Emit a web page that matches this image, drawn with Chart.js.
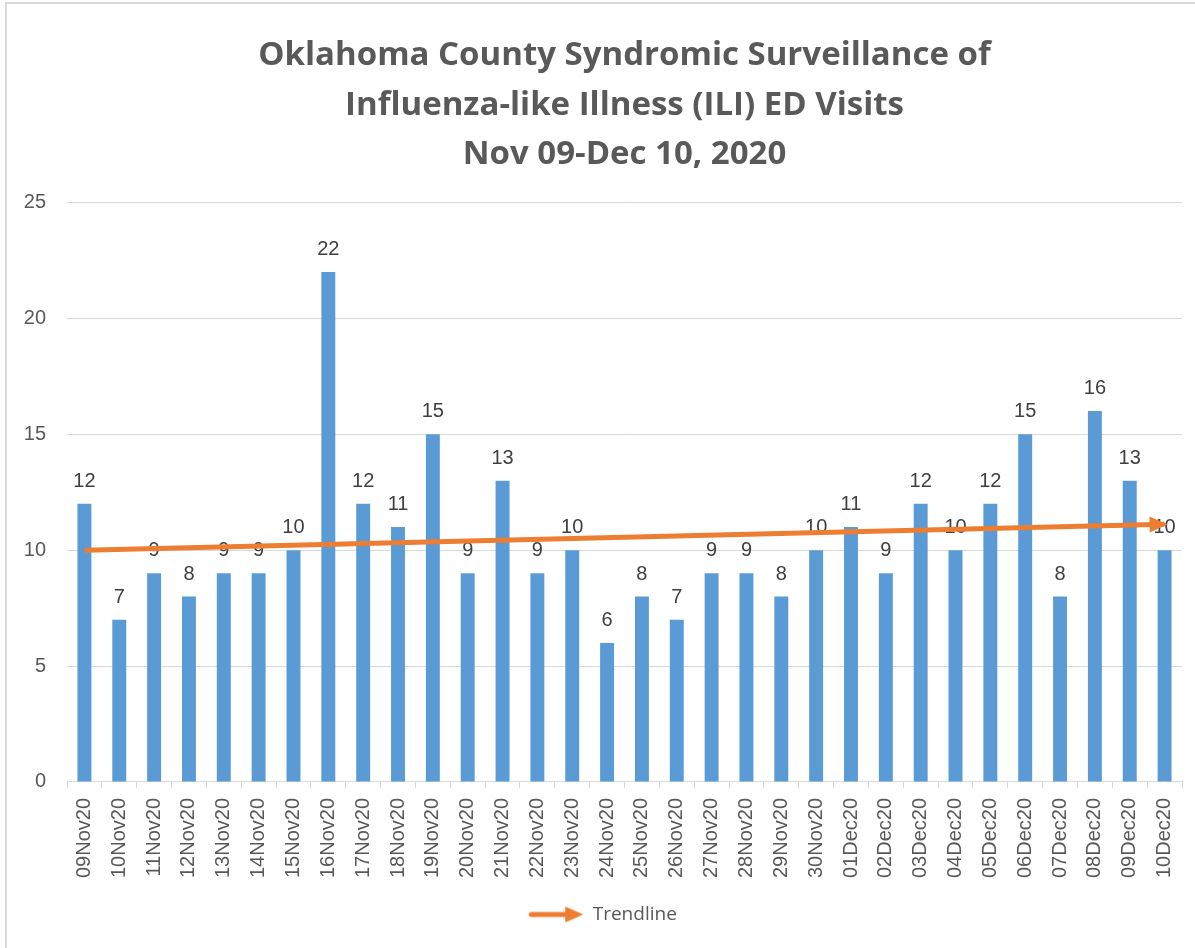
<!DOCTYPE html>
<html lang="en">
<head>
<meta charset="UTF-8">
<title>Oklahoma County ILI ED Visits</title>
<script src="https://cdn.jsdelivr.net/npm/chart.js"></script>
<style>
  html, body { margin: 0; padding: 0; background: #fff; overflow: hidden; }
  .frame {
    position: absolute; left: 5px; top: 2px;
    border-left: 2px solid #d9d9d9; border-top: 2px solid #d9d9d9;
    width: 1226px; height: 944px;
  }
</style>
</head>
<body>
<div class="frame"><canvas id="chart" width="1226" height="944"></canvas></div>
<script>
// daily ED visits for ILI
const days = ['09Nov20', '10Nov20', '11Nov20', '12Nov20', '13Nov20', '14Nov20', '15Nov20', '16Nov20',
  '17Nov20', '18Nov20', '19Nov20', '20Nov20', '21Nov20', '22Nov20', '23Nov20', '24Nov20',
  '25Nov20', '26Nov20', '27Nov20', '28Nov20', '29Nov20', '30Nov20', '01Dec20', '02Dec20',
  '03Dec20', '04Dec20', '05Dec20', '06Dec20', '07Dec20', '08Dec20', '09Dec20', '10Dec20'];
const visits = [12, 7, 9, 8, 9, 9, 10, 22, 12, 11, 15, 9, 13, 9, 10, 6,
  8, 7, 9, 9, 8, 10, 11, 9, 12, 10, 12, 15, 8, 16, 13, 10];
// trendline end values as drawn
const trendStart = 10.0;
const trendEnd = 11.12;
const yTicks = [0, 5, 10, 15, 20, 25];

const trend = visits.map((v, i) => i === 0 ? trendStart : (i === visits.length - 1 ? trendEnd : null));

// arrow used as the legend symbol
const arrowImg = document.createElement('canvas');
arrowImg.width = 56;
arrowImg.height = 20;
(function () {
  const c = arrowImg.getContext('2d');
  c.strokeStyle = '#ED7D31';
  c.fillStyle = '#ED7D31';
  c.lineWidth = 5;
  c.lineCap = 'round';
  c.beginPath();
  c.moveTo(4, 10);
  c.lineTo(40, 10);
  c.stroke();
  c.beginPath();
  c.moveTo(56, 10);
  c.lineTo(38, 2);
  c.lineTo(38, 18);
  c.closePath();
  c.fill();
})();

// value labels above the bars
const barLabels = {
  id: 'barLabels',
  afterDatasetDraw(chart, args) {
    if (args.index !== 0) return;
    const ctx = chart.ctx;
    ctx.save();
    ctx.font = '20px "Liberation Sans"';
    ctx.fillStyle = '#404040';
    ctx.textAlign = 'center';
    ctx.textBaseline = 'alphabetic';
    args.meta.data.forEach((bar, i) => {
      ctx.fillText(visits[i], bar.x, bar.y - 17);
    });
    ctx.restore();
  }
};

// arrow head at the end of the trendline
const arrowHead = {
  id: 'arrowHead',
  afterDatasetsDraw(chart) {
    const pts = chart.getDatasetMeta(1).data;
    const a = pts[0];
    const b = pts[pts.length - 1];
    const ang = Math.atan2(b.y - a.y, b.x - a.x);
    const ctx = chart.ctx;
    ctx.save();
    ctx.translate(b.x, b.y);
    ctx.rotate(ang);
    ctx.fillStyle = '#ED7D31';
    ctx.beginPath();
    ctx.moveTo(3, 0);
    ctx.lineTo(-15, -8);
    ctx.lineTo(-15, 8);
    ctx.closePath();
    ctx.fill();
    ctx.restore();
  }
};

new Chart(document.getElementById('chart'), {
  data: {
    labels: days,
    datasets: [{
      type: 'bar',
      label: 'ED Visits',
      data: visits,
      backgroundColor: '#5B9BD5',
      categoryPercentage: 1,
      barPercentage: 0.4,
      order: 2
    }, {
      type: 'line',
      label: 'Trendline',
      data: trend,
      spanGaps: true,
      borderColor: '#ED7D31',
      backgroundColor: '#ED7D31',
      borderWidth: 5,
      pointRadius: 0,
      pointHoverRadius: 0,
      pointStyle: arrowImg,
      order: 1
    }]
  },
  options: {
    responsive: false,
    animation: false,
    devicePixelRatio: 1,
    layout: { padding: { left: 15, right: 51, top: 0, bottom: 14 } },
    plugins: {
      title: {
        display: true,
        fullSize: false,
        text: ['Oklahoma County Syndromic Surveillance of', 'Influenza-like Illness (ILI) ED Visits', 'Nov 09-Dec 10, 2020'],
        color: '#595959',
        font: { family: 'Open Sans', size: 33, weight: 'bold', lineHeight: 1.5 },
        padding: { top: 27, bottom: 23 }
      },
      legend: {
        position: 'bottom',
        labels: {
          filter: item => item.datasetIndex === 1,
          usePointStyle: true,
          pointStyleWidth: 56,
          boxHeight: 20,
          color: '#595959',
          font: { family: 'Open Sans', size: 19 },
          padding: 17
        }
      },
      tooltip: { enabled: false }
    },
    scales: {
      x: {
        offset: true,
        grid: { offset: true, drawOnChartArea: false, drawTicks: true, tickLength: 6, color: '#d9d9d9' },
        border: { color: '#d9d9d9', width: 1 },
        ticks: {
          autoSkip: false,
          minRotation: 90,
          maxRotation: 90,
          padding: 10,
          color: '#595959',
          font: { family: 'Liberation Sans', size: 20 }
        }
      },
      y: {
        min: yTicks[0],
        max: yTicks[yTicks.length - 1],
        afterBuildTicks: axis => { axis.ticks = yTicks.map(v => ({ value: v })); },
        afterFit: axis => { axis.width = 45; },
        grid: { color: '#d9d9d9', drawTicks: false },
        border: { display: false },
        ticks: {
          padding: 21,
          color: '#595959',
          font: { family: 'Liberation Sans', size: 20 }
        }
      }
    }
  },
  plugins: [barLabels, arrowHead]
});
</script>
</body>
</html>
